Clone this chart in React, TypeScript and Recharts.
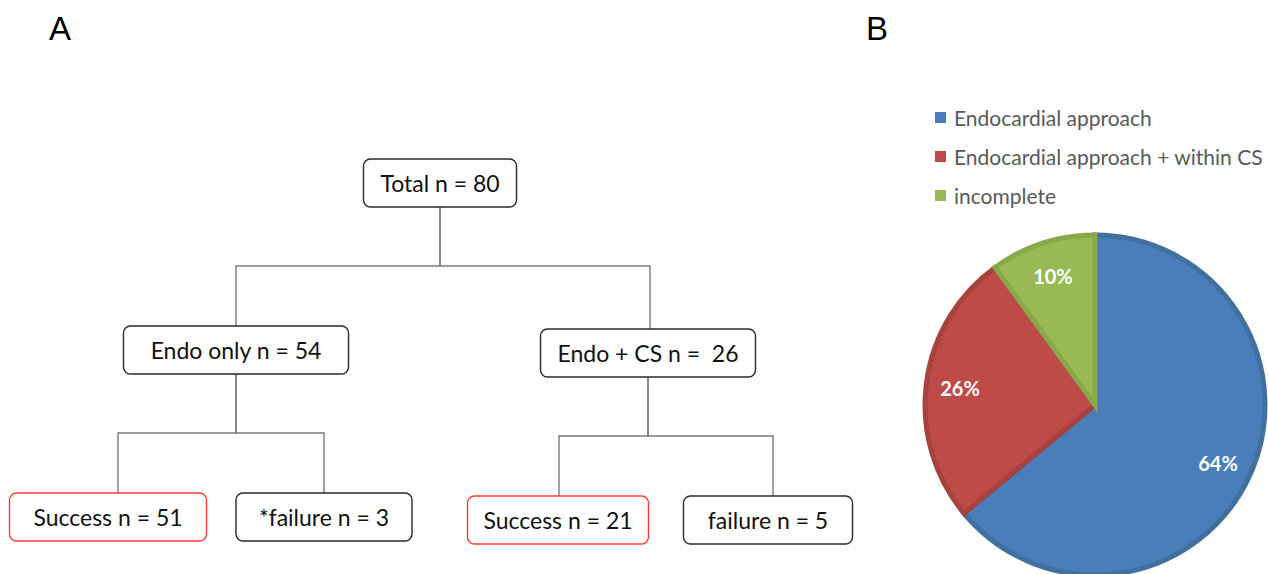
import React from "react";
import {
  ScatterChart,
  Scatter,
  XAxis,
  YAxis,
  PieChart,
  Pie,
  Cell,
  Legend,
} from "recharts";

// flowchart (panel A)
const nodeLabels = [
  "Total n = 80",
  "Endo only n = 54",
  "Endo + CS n =  26",
  "Success n = 51",
  "*failure n = 3",
  "Success n = 21",
  "failure n = 5",
];
const nodeX = [440, 236, 648, 108, 324, 558, 768];
const nodeY = [183, 350, 353, 517, 517, 520, 520];
const nodeW = [153, 225, 215, 197, 176, 181, 169];
const nodeOutcome = ["", "", "", "success", "", "success", ""];
// [parent, child, bar y, drop x]
const links = [
  [0, 1, 266, 236],
  [0, 2, 266, 650],
  [1, 3, 433, 118],
  [1, 4, 433, 324],
  [2, 5, 436, 559],
  [2, 6, 436, 773],
];

// pie (panel B)
const pieNames = [
  "Endocardial approach",
  "Endocardial approach + within CS",
  "incomplete",
];
const pieValues = [64, 26, 10];
const pieFill = ["#4a7ebb", "#be4b48", "#98b954"];
const pieStroke = ["#41709f", "#a8423f", "#88a84c"];

const NODE_H = 48;

const nodes = nodeLabels.map((label, i) => ({
  x: nodeX[i],
  y: nodeY[i],
  w: nodeW[i],
  label,
  success: nodeOutcome[i] === "success",
}));

const linkData = links.map(([p, c, barY, dropX]) => [
  { x: nodeX[p], y: nodeY[p] + NODE_H / 2 },
  { x: nodeX[p], y: barY },
  { x: dropX, y: barY },
  { x: dropX, y: nodeY[c] - NODE_H / 2 },
]);

const pieData = pieNames.map((name, i) => ({ name, value: pieValues[i] }));

const Empty = () => <g />;

const NodeBox = (props: any) => {
  const { cx, cy, payload } = props;
  return (
    <g>
      <rect
        x={cx - payload.w / 2}
        y={cy - NODE_H / 2}
        width={payload.w}
        height={NODE_H}
        rx={7}
        fill="#fff"
        stroke={payload.success ? "#ff3b3b" : "#2a2a2a"}
        strokeWidth={1.4}
      />
      <text
        x={cx}
        y={cy}
        textAnchor="middle"
        dominantBaseline="central"
        fontFamily="Lato, sans-serif"
        fontSize={23}
        fill="#111"
        style={{ whiteSpace: "pre" }}
      >
        {payload.label}
      </text>
    </g>
  );
};

const RADIAN = Math.PI / 180;
const PieLabel = (props: any) => {
  const { cx, cy, midAngle, outerRadius, value } = props;
  const r = outerRadius * 0.8;
  const x = cx + r * Math.cos(-midAngle * RADIAN);
  const y = cy + r * Math.sin(-midAngle * RADIAN);
  return (
    <text
      x={x}
      y={y}
      textAnchor="middle"
      dominantBaseline="central"
      fill="#fff"
      fontFamily="Lato, sans-serif"
      fontWeight="bold"
      fontSize={20}
    >
      {`${value}%`}
    </text>
  );
};

const LegendContent = () => (
  <div style={{ fontFamily: "Lato, sans-serif", fontSize: 21, color: "#595959" }}>
    {pieNames.map((name, i) => (
      <div
        key={name}
        style={{ display: "flex", alignItems: "center", height: 39, whiteSpace: "nowrap" }}
      >
        <span
          style={{
            display: "inline-block",
            width: 11,
            height: 11,
            background: pieFill[i],
            marginRight: 8,
          }}
        />
        {name}
      </div>
    ))}
  </div>
);

const panelLetter: React.CSSProperties = {
  position: "absolute",
  fontFamily: "'Liberation Sans', Arial, sans-serif",
  fontSize: 33,
  lineHeight: 1,
  color: "#000",
};

export default function App() {
  return (
    <div
      style={{
        position: "absolute",
        left: 0,
        top: 0,
        width: 1268,
        height: 574,
        background: "#fff",
        overflow: "hidden",
      }}
    >
      <div style={{ ...panelLetter, left: 49, top: 12 }}>A</div>
      <div style={{ ...panelLetter, left: 866, top: 12 }}>B</div>

      <div style={{ position: "absolute", left: 0, top: 0 }}>
        <ScatterChart
          width={880}
          height={574}
          margin={{ top: 0, right: 0, bottom: 0, left: 0 }}
        >
          <XAxis type="number" dataKey="x" domain={[0, 880]} hide />
          <YAxis type="number" dataKey="y" domain={[0, 574]} reversed hide />
          {linkData.map((pts, i) => (
            <Scatter
              key={`link-${i}`}
              data={pts}
              line={{ stroke: "#7a7a7a", strokeWidth: 1.4 }}
              lineType="joint"
              shape={<Empty />}
              isAnimationActive={false}
            />
          ))}
          <Scatter
            data={nodes}
            shape={<NodeBox />}
            isAnimationActive={false}
          />
        </ScatterChart>
      </div>

      <div style={{ position: "absolute", left: 880, top: 0 }}>
        <PieChart
          width={388}
          height={574}
          margin={{ top: 0, right: 0, bottom: 0, left: 0 }}
        >
          <Pie
            data={pieData}
            dataKey="value"
            nameKey="name"
            cx={215}
            cy={405}
            outerRadius={170}
            startAngle={90}
            endAngle={-270}
            labelLine={false}
            label={<PieLabel />}
            isAnimationActive={false}
          >
            {pieData.map((d, i) => (
              <Cell
                key={d.name}
                fill={pieFill[i]}
                stroke={pieStroke[i]}
                strokeWidth={5}
              />
            ))}
          </Pie>
          <Legend
            content={<LegendContent />}
            wrapperStyle={{ position: "absolute", left: 55, top: 98, width: 333 }}
          />
        </PieChart>
      </div>
    </div>
  );
}
